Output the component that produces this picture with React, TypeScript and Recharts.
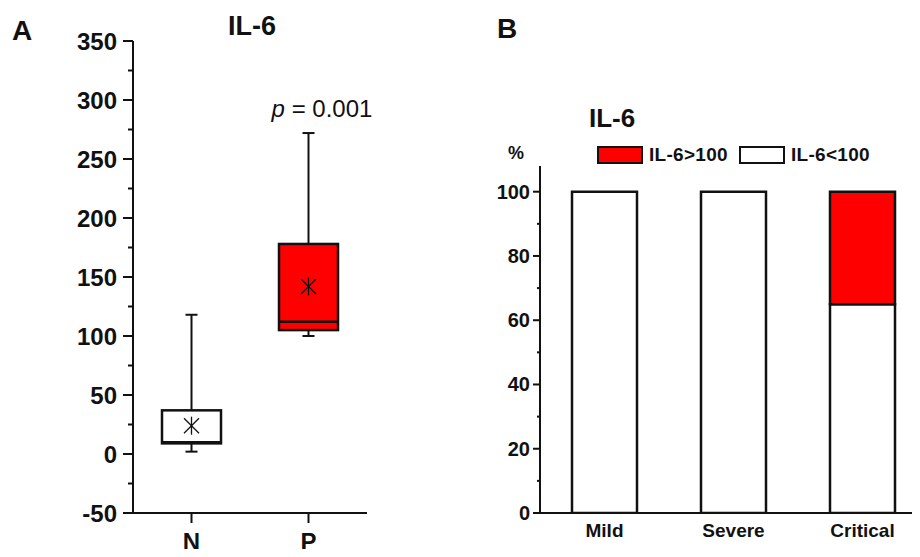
import { Bar, BarChart, ComposedChart, Scatter, XAxis, YAxis } from "recharts";

// panel A: IL-6 box plot by group
const groups = ["N", "P"];
const boxMin = [2, 100];
const boxQ1 = [9, 105];
const boxMedian = [10, 112];
const boxQ3 = [37, 178];
const boxMax = [118, 272];
const boxMean = [24, 142];
const yTicksA = [-50, -25, 0, 25, 50, 75, 100, 125, 150, 175, 200, 225, 250, 275, 300, 325, 350];

// panel B: share of patients above / below 100 by severity
const severity = ["Mild", "Severe", "Critical"];
const below100 = [100, 100, 65];
const above100 = [0, 0, 35];
const yTicksB = [0, 10, 20, 30, 40, 50, 60, 70, 80, 90, 100];

const BOX_COLORS = ["#ffffff", "#ff0000"];
const FONT = "'Liberation Sans', Arial, sans-serif";
const INK = "#111";

const boxData = groups.map((g, i) => ({
  group: g,
  min: boxMin[i],
  q1: boxQ1[i],
  median: boxMedian[i],
  q3: boxQ3[i],
  max: boxMax[i],
  mean: boxMean[i],
  fill: BOX_COLORS[i],
}));

const stackData = severity.map((s, i) => ({ name: s, below: below100[i], above: above100[i] }));

function BoxShape(props: any) {
  const { x, y, width, height, payload } = props;
  const k = height / (payload.q3 - payload.q1);
  const py = (v: number) => y + (payload.q3 - v) * k;
  const cx = x + width / 2;
  const cap = 6;
  return (
    <g stroke={INK} strokeWidth={2}>
      <line x1={cx} x2={cx} y1={py(payload.max)} y2={y} />
      <line x1={cx - cap} x2={cx + cap} y1={py(payload.max)} y2={py(payload.max)} />
      <line x1={cx} x2={cx} y1={y + height} y2={py(payload.min)} />
      <line x1={cx - cap} x2={cx + cap} y1={py(payload.min)} y2={py(payload.min)} />
      <rect x={x} y={y} width={width} height={height} fill={payload.fill} strokeWidth={2.5} />
      <line x1={x} x2={x + width} y1={py(payload.median)} y2={py(payload.median)} strokeWidth={2.5} />
    </g>
  );
}

function Asterisk(props: any) {
  const { cx, cy } = props;
  const r = 9;
  const d = 7.5;
  return (
    <g stroke={INK} strokeWidth={1.3}>
      <line x1={cx} x2={cx} y1={cy - r} y2={cy + r} />
      <line x1={cx - d} x2={cx + d} y1={cy - d} y2={cy + d} />
      <line x1={cx - d} x2={cx + d} y1={cy + d} y2={cy - d} />
    </g>
  );
}

function TickA({ x, y, payload }: any) {
  const major = payload.value % 50 === 0;
  return (
    <g>
      <line x1={x - (major ? 10 : 5)} x2={x} y1={y} y2={y} stroke={INK} strokeWidth={2} />
      {major && (
        <text x={x - 16} y={y + 8.5} textAnchor="end" fontSize={24} fontWeight="bold" fill={INK} fontFamily={FONT}>
          {payload.value}
        </text>
      )}
    </g>
  );
}

function TickB({ x, y, payload }: any) {
  const major = payload.value % 20 === 0;
  return (
    <g>
      <line x1={x - (major ? 7 : 3)} x2={x} y1={y} y2={y} stroke={INK} strokeWidth={2} />
      {major && (
        <text x={x - 10} y={y + 7} textAnchor="end" fontSize={20} fontWeight="bold" fill={INK} fontFamily={FONT}>
          {payload.value}
        </text>
      )}
    </g>
  );
}

function CatTick({ x, y, payload, dy, size }: any) {
  return (
    <text x={x} y={y + dy} textAnchor="middle" fontSize={size} fontWeight="bold" fill={INK} fontFamily={FONT}>
      {payload.value}
    </text>
  );
}

function LegendB() {
  const item = (fill: string, label: string, gap: number) => (
    <div style={{ display: "flex", alignItems: "center", marginRight: gap }}>
      <div style={{ width: 42, height: 14, background: fill, border: `2px solid ${INK}`, marginRight: 6 }} />
      <span style={{ fontSize: 19, fontWeight: "bold", color: INK, fontFamily: FONT, letterSpacing: 0.3, lineHeight: "18px" }}>{label}</span>
    </div>
  );
  return (
    <div style={{ display: "flex", position: "absolute", left: 597, top: 146 }}>
      {item("#ff0000", "IL-6>100", 11)}
      {item("#ffffff", "IL-6<100", 0)}
    </div>
  );
}

export default function App() {
  return (
    <div style={{ position: "relative", width: 920, height: 557, margin: -8, overflow: "hidden", background: "#fff", fontFamily: FONT }}>
      <div style={{ position: "absolute", left: 0, top: 0 }}>
        <ComposedChart width={380} height={557} data={boxData} margin={{ top: 41, right: 13, bottom: 0, left: 0 }}>
          <XAxis
            dataKey="group"
            height={44}
            axisLine={{ stroke: INK, strokeWidth: 2 }}
            tickLine={{ stroke: INK, strokeWidth: 2 }}
            tickSize={10}
            tickMargin={2}
            tick={<CatTick dy={25} size={24} />}
          />
          <YAxis
            type="number"
            domain={[-50, 350]}
            ticks={yTicksA}
            interval={0}
            allowDataOverflow
            width={133}
            axisLine={{ stroke: INK, strokeWidth: 2 }}
            tickLine={false}
            tickSize={0}
            tickMargin={0}
            tick={<TickA />}
          />
          <Bar dataKey={(d: any) => [d.q1, d.q3]} barSize={59} shape={<BoxShape />} isAnimationActive={false} />
          <Scatter dataKey="mean" shape={<Asterisk />} isAnimationActive={false} />
        </ComposedChart>
      </div>

      <div style={{ position: "absolute", left: 480, top: 0 }}>
        <BarChart width={450} height={557} data={stackData} margin={{ top: 166, right: 3, bottom: 0, left: 0 }}>
          <XAxis
            dataKey="name"
            height={44}
            axisLine={{ stroke: INK, strokeWidth: 2 }}
            tickLine={false}
            tickSize={0}
            tickMargin={0}
            tick={<CatTick dy={24} size={19} />}
          />
          <YAxis
            type="number"
            domain={[0, 108]}
            ticks={yTicksB}
            interval={0}
            allowDataOverflow
            width={60}
            axisLine={{ stroke: INK, strokeWidth: 2 }}
            tickLine={false}
            tickSize={0}
            tickMargin={0}
            tick={<TickB />}
          />
          <Bar dataKey="below" name="IL-6<100" stackId="s" fill="#ffffff" stroke={INK} strokeWidth={2.5} barSize={65} isAnimationActive={false} />
          <Bar dataKey="above" name="IL-6>100" stackId="s" fill="#ff0000" stroke={INK} strokeWidth={2.5} barSize={65} isAnimationActive={false} />
        </BarChart>
      </div>

      <LegendB />

      <svg width={920} height={557} style={{ position: "absolute", left: 0, top: 0, pointerEvents: "none" }} fontFamily={FONT} fill={INK}>
        <text x={12} y={40} fontSize={28} fontWeight="bold">A</text>
        <text x={252} y={35} fontSize={27} fontWeight="bold" textAnchor="middle">IL-6</text>
        <text x={322} y={117} fontSize={24} textAnchor="middle">
          <tspan fontStyle="italic">p</tspan> = 0.001
        </text>
        <text x={497} y={38} fontSize={28} fontWeight="bold">B</text>
        <text x={589} y={127} fontSize={26} fontWeight="bold">IL-6</text>
        <text x={508} y={159} fontSize={18} fontWeight="bold">%</text>
      </svg>
    </div>
  );
}
